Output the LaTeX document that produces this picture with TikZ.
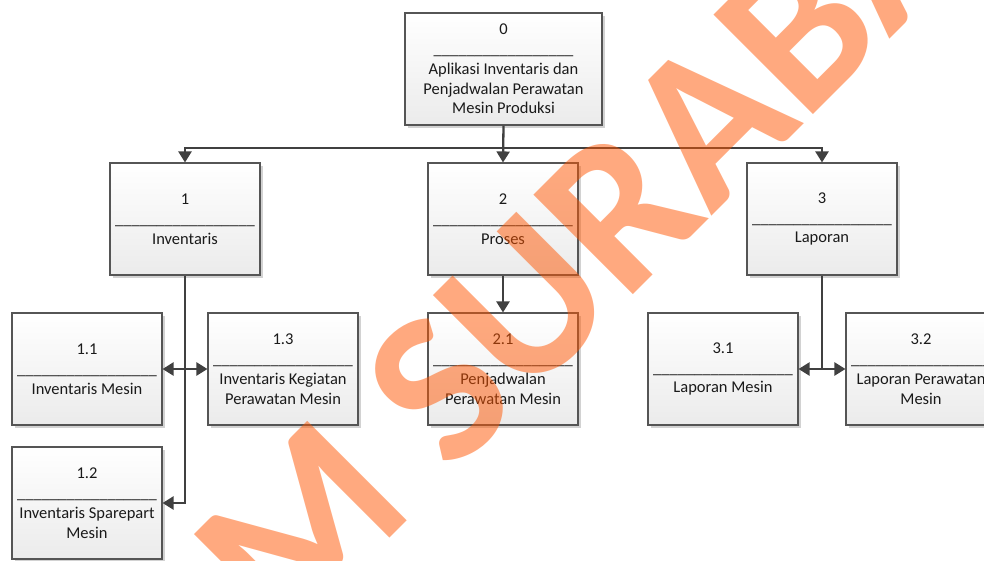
\documentclass[tikz,border=0pt]{standalone}
\usepackage{fontspec}
\setmainfont{Carlito}
\usetikzlibrary{arrows.meta,shadows}

\definecolor{boxline}{HTML}{555555}
\definecolor{boxbottom}{HTML}{EBEBEB}
\definecolor{shadowgray}{HTML}{D2D2D2}
\definecolor{conngray}{HTML}{404040}
\definecolor{textcol}{HTML}{1A1A1A}
\definecolor{wmorange}{RGB}{255,85,0}

% separator line printed inside every process box
\newcommand{\sepline}{\_\_\_\_\_\_\_\_\_\_\_\_\_\_\_\_\_}

\tikzset{
  procbox/.style={draw=boxline, line width=1.1pt, top color=white, bottom color=boxbottom,
    minimum width=150pt, minimum height=112pt, align=center, inner sep=0pt,
    font=\fontsize{16.5}{19.8}\selectfont, text=textcol,
    drop shadow={shadow xshift=3pt, shadow yshift=-3pt, fill=shadowgray, opacity=1}},
  conn/.style={draw=conngray, line width=2.3pt, line join=miter},
  tip/.style={-{Triangle[length=11pt,width=13pt]}},
  twotip/.style={{Triangle[length=11pt,width=13pt]}-{Triangle[length=11pt,width=13pt]}},
  watermark/.style={text=wmorange, text opacity=0.5, inner sep=0pt,
    font=\fontsize{217}{217}\selectfont\bfseries}
}

\begin{document}
\begin{tikzpicture}[x=1pt,y=-1pt]
  \useasboundingbox (0,0) rectangle (984,560);
  \fill[white] (0,0) rectangle (984,560);
  \clip (0,0) rectangle (984,560);

  % top level process
  \node[procbox, minimum width=197pt] (b0) at (503.5,69)
    {0\\\sepline\\Aplikasi Inventaris dan\\Penjadwalan Perawatan\\Mesin Produksi};

  % level 1
  \node[procbox] (b1) at (185,219) {1\\\sepline\\Inventaris};
  \node[procbox] (b2) at (503,219) {2\\\sepline\\Proses};
  \node[procbox] (b3) at (822,219) {3\\\sepline\\Laporan};

  % level 2
  \node[procbox] (b11) at (87,369)  {1.1\\\sepline\\Inventaris Mesin};
  \node[procbox] (b13) at (283,369) {1.3\\\sepline\\Inventaris Kegiatan\\Perawatan Mesin};
  \node[procbox] (b12) at (87,503)  {1.2\\\sepline\\Inventaris Sparepart\\Mesin};
  \node[procbox] (b21) at (503,369) {2.1\\\sepline\\Penjadwalan\\Perawatan Mesin};
  \node[procbox] (b31) at (723,369) {3.1\\\sepline\\Laporan Mesin};
  \node[procbox] (b32) at (921,369) {3.2\\\sepline\\Laporan Perawatan\\Mesin};

  % connectors
  \coordinate (bus) at (503,148);
  \draw[conn, tip] (b0.south) -- (b2.north);
  \draw[conn, twotip] (b1.north) -- (b1.north |- bus) -- (b3.north |- bus) -- (b3.north);

  \draw[conn, tip] (b1.south) |- (b12.east);
  \draw[conn, twotip] (b11.east) -- (b13.west);

  \draw[conn, tip] (b2.south) -- (b21.north);

  \draw[conn] (b3.south) -- (b3.south |- b31.east);
  \draw[conn, twotip] (b31.east) -- (b32.west);

  % diagonal watermark
  \node[watermark, rotate=45, anchor=base west] (wm) at (452,476) {\llap{STIKOM }SURABAYA};
\end{tikzpicture}
\end{document}
